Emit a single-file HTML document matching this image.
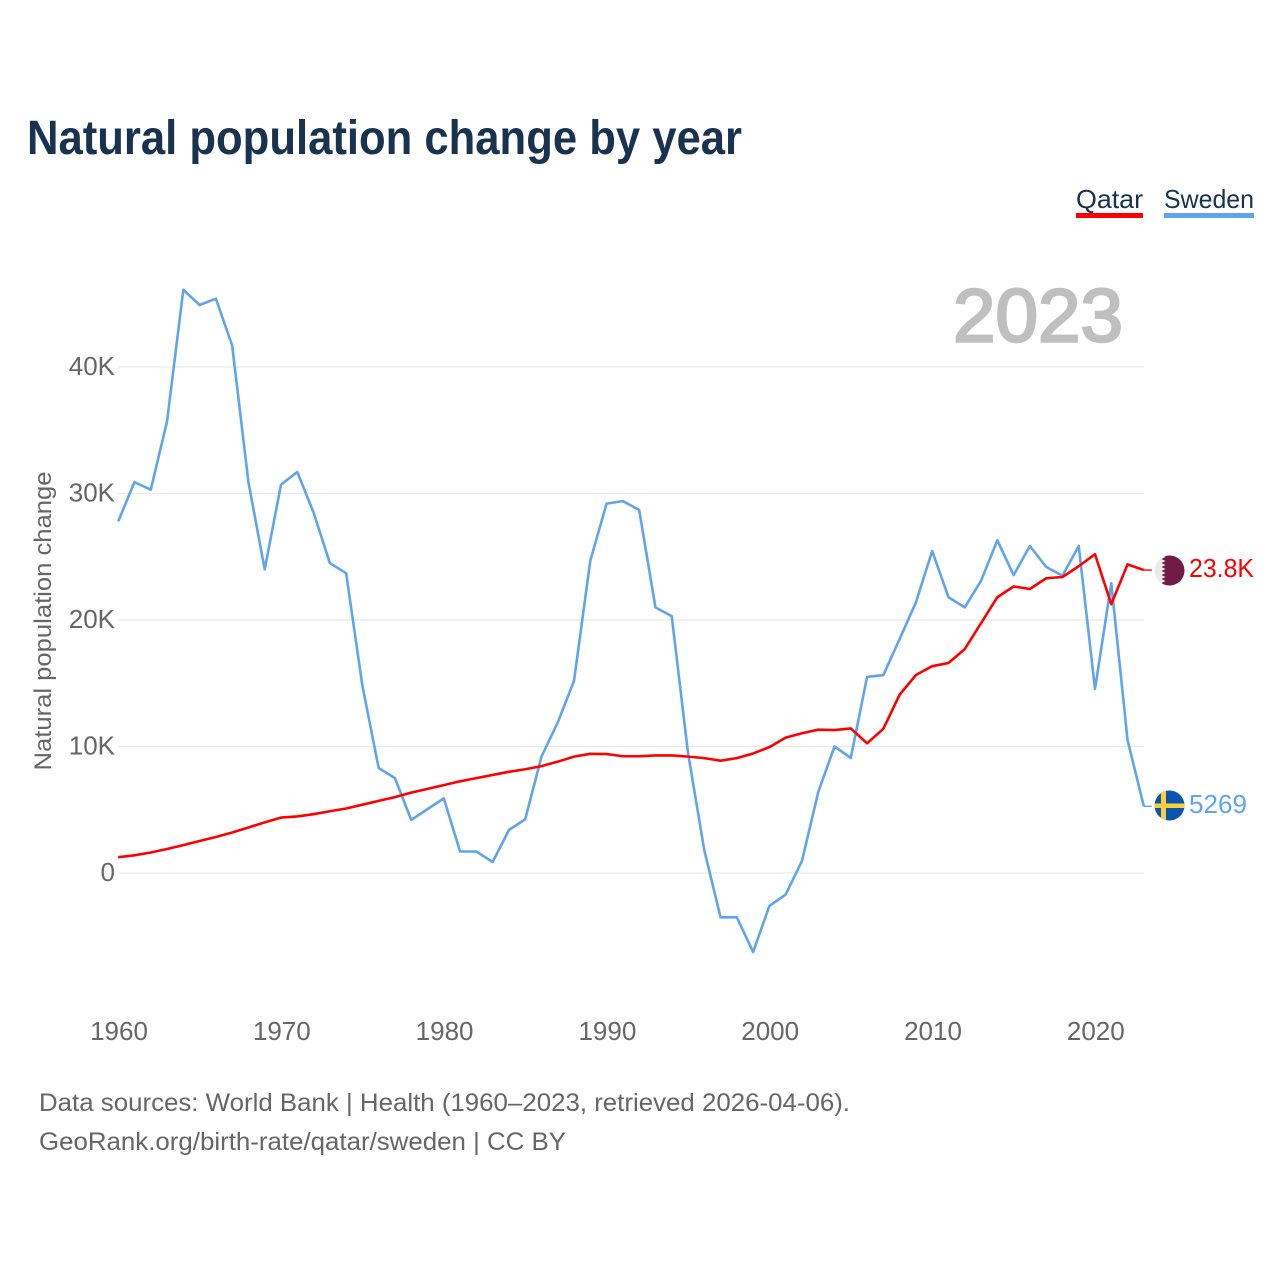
<!DOCTYPE html>
<html lang="en">
<head>
<meta charset="utf-8">
<title>Natural population change by year</title>
<style>
html,body{margin:0;padding:0;background:#fff;}
svg{display:block;font-family:"Liberation Sans",sans-serif;}
</style>
</head>
<body>
<svg id="chart" xmlns="http://www.w3.org/2000/svg" width="1280" height="1280" viewBox="0 0 1280 1280">
  <defs>
    <clipPath id="flag-clip-qa"><circle cx="1169.5" cy="570.5" r="15"></circle></clipPath>
    <clipPath id="flag-clip-se"><circle cx="1169.5" cy="805.5" r="15"></circle></clipPath>
  </defs>
  <rect width="1280" height="1280" fill="#fff"></rect>
  <text x="27" y="154" font-size="48" font-weight="700" fill="#18324f" textLength="715" lengthAdjust="spacingAndGlyphs">Natural population change by year</text>

  <g>
    <g>
      <text x="1076" y="208" font-size="26" fill="#18324f" textLength="67" lengthAdjust="spacingAndGlyphs">Qatar</text>
      <rect x="1076" y="213" width="67" height="5" fill="#ff0000"></rect>
    </g>
    <g>
      <text x="1164" y="208" font-size="26" fill="#18324f" textLength="90" lengthAdjust="spacingAndGlyphs">Sweden</text>
      <rect x="1164" y="213" width="90" height="5" fill="#60a5ec"></rect>
    </g>
  </g>

  <g id="grid"></g>
  <g id="y-ticks"></g>
  <g id="x-ticks"></g>

  <text x="0" y="0" transform="translate(51 621) rotate(-90)" text-anchor="middle" font-size="24" fill="#666666" textLength="299" lengthAdjust="spacingAndGlyphs">Natural population change</text>

  <text x="953" y="341.5" font-size="75" font-weight="400" fill="#bfbfbf" stroke="#bfbfbf" stroke-width="2.4" textLength="170" lengthAdjust="spacingAndGlyphs">2023</text>

  <g id="series"></g>

  <g>
    <g clip-path="url(#flag-clip-qa)">
      <rect x="1154" y="555" width="31" height="31" fill="#ecebec"></rect>
      <polygon points="1185,555 1162,555 1165.5,557 1161.5,559 1165.5,561 1161.5,563 1165.5,565 1161.5,567 1165.5,569 1161.5,571 1165.5,573 1161.5,575 1165.5,577 1161.5,579 1165.5,581 1161.5,583 1165.5,586 1185,586" fill="#701c47"></polygon>
    </g>
  </g>
  <g>
    <g clip-path="url(#flag-clip-se)">
      <rect x="1154" y="790" width="31" height="31" fill="#0a53ae"></rect>
      <rect x="1161" y="790" width="5" height="31" fill="#fdcf3a"></rect>
      <rect x="1154" y="803.5" width="31" height="4.5" fill="#fdcf3a"></rect>
    </g>
  </g>
  <text x="1189" y="577" font-size="26" fill="#ff0000" textLength="65" lengthAdjust="spacingAndGlyphs">23.8K</text>
  <text x="1189" y="813" font-size="26" fill="#60a5ec" textLength="58" lengthAdjust="spacingAndGlyphs">5269</text>

  <text x="39" y="1111" font-size="25" fill="#666666" textLength="811" lengthAdjust="spacingAndGlyphs">Data sources: World Bank | Health (1960–2023, retrieved 2026-04-06).</text>
  <text x="39" y="1150" font-size="25" fill="#666666" textLength="527" lengthAdjust="spacingAndGlyphs">GeoRank.org/birth-rate/qatar/sweden | CC BY</text>
</svg>
<script>
const startYear = 1960;
const yTickValues = [0, 10000, 20000, 30000, 40000];
const yTickLabels = ["0", "10K", "20K", "30K", "40K"];
const xTickValues = [1960, 1970, 1980, 1990, 2000, 2010, 2020];
const swedenValues = [27800, 30900, 30300, 35700, 46100, 44900, 45400, 41700, 30900, 24000,
  30700, 31700, 28500, 24500, 23700, 14800, 8300, 7500, 4200, 5050,
  5900, 1700, 1700, 870, 3400, 4250, 9200, 11900, 15200, 24700,
  29200, 29400, 28700, 21000, 20300, 9500, 1800, -3500, -3500, -6250,
  -2600, -1700, 950, 6400, 10000, 9100, 15500, 15650, 18500, 21400,
  25450, 21800, 21000, 23100, 26300, 23550, 25850, 24200, 23500, 25850,
  14550, 22900, 10500, 5269];
const qatarValues = [1250, 1400, 1620, 1900, 2200, 2530, 2850, 3200, 3600, 4000,
  4380, 4470, 4650, 4880, 5100, 5400, 5700, 6000, 6350, 6650,
  6950, 7250, 7500, 7750, 8000, 8200, 8450, 8800, 9200, 9420,
  9400, 9230, 9230, 9290, 9290, 9200, 9080, 8880, 9080, 9450,
  9950, 10700, 11050, 11330, 11300, 11430, 10250, 11400, 14100, 15650,
  16350, 16600, 17700, 19750, 21800, 22650, 22450, 23300, 23400, 24250,
  25200, 21250, 24400, 23950];

const NS = "http://www.w3.org/2000/svg";
function xScale(year) { return 118.2 + (year - 1960) * 16.28; }
function yScale(value) { return 873 - value * 0.01265; }
function make(tag, attrs, parent) {
  const el = document.createElementNS(NS, tag);
  for (const k in attrs) el.setAttribute(k, attrs[k]);
  parent.appendChild(el);
  return el;
}
const gridGroup = document.getElementById("grid");
const yTickGroup = document.getElementById("y-ticks");
const xTickGroup = document.getElementById("x-ticks");
const seriesGroup = document.getElementById("series");
const plotRight = xScale(startYear + swedenValues.length - 1);

yTickValues.forEach(function (v, i) {
  const line = make("line", { x1: 118, x2: plotRight, y1: yScale(v), y2: yScale(v), stroke: "#ebebeb", "stroke-width": 1.2 }, gridGroup);
  
  
  const label = make("text", { x: 115, y: yScale(v) + 8, "text-anchor": "end", "font-size": 26, fill: "#666666" }, yTickGroup);
  label.textContent = yTickLabels[i];
  
  
});

xTickValues.forEach(function (year) {
  const label = make("text", { x: xScale(year) + 0.8, y: 1040, "text-anchor": "middle", "font-size": 26, fill: "#666666" }, xTickGroup);
  label.textContent = String(year);
  
  
});

function linePoints(values) {
  return values.map(function (v, i) {
    return xScale(startYear + i).toFixed(2) + "," + yScale(v).toFixed(2);
  }).join(" ");
}

const swedenLine = make("polyline", { points: linePoints(swedenValues), fill: "none", stroke: "#60a5ec", "stroke-width": 2.6, "stroke-linejoin": "round" }, seriesGroup);


const qatarLine = make("polyline", { points: linePoints(qatarValues), fill: "none", stroke: "#ff0000", "stroke-width": 2.6, "stroke-linejoin": "round" }, seriesGroup);



const swedenEndY = yScale(swedenValues[swedenValues.length - 1]);
const qatarEndY = yScale(qatarValues[qatarValues.length - 1]);
const swedenConnector = make("line", { x1: plotRight, x2: plotRight + 8, y1: swedenEndY, y2: swedenEndY, stroke: "#60a5ec", "stroke-width": 1.4 }, seriesGroup);


const qatarConnector = make("line", { x1: plotRight, x2: plotRight + 8, y1: qatarEndY, y2: qatarEndY, stroke: "#ff0000", "stroke-width": 1.4 }, seriesGroup);


</script>
</body>
</html>
